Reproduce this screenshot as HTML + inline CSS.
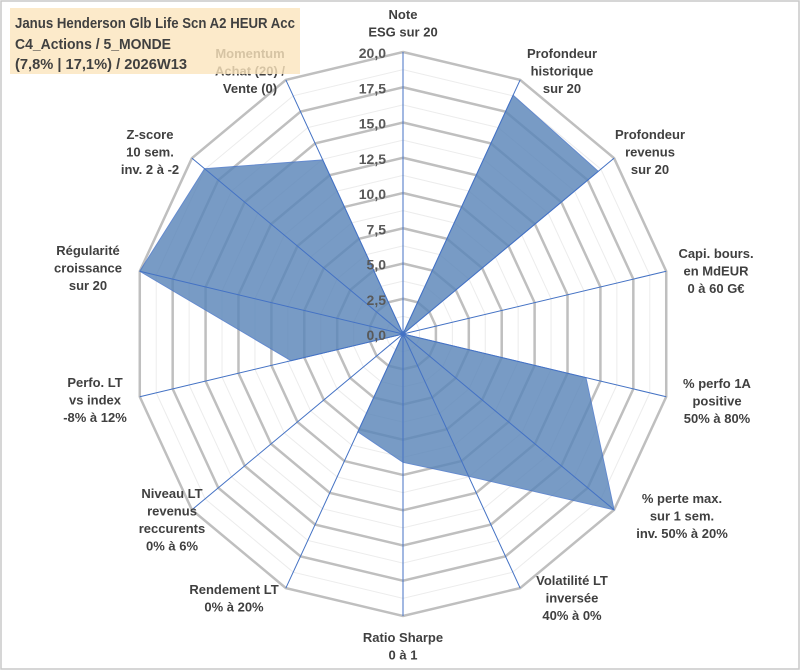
<!DOCTYPE html>
<html><head><meta charset="utf-8"><style>
html,body{margin:0;padding:0;background:#fff;}
svg{display:block;font-family:"Liberation Sans",sans-serif;}
.lab{font-size:13px;font-weight:bold;fill:#404040;text-anchor:middle;}
.tick{font-size:14px;font-weight:bold;fill:#595959;text-anchor:end;}
</style></head><body>
<svg id="chart" width="801" height="671" viewBox="0 0 801 671">
<rect x="1" y="1" width="798" height="668" fill="#fff" stroke="#c8c8c8" stroke-width="1.5"/>
<g id="grid"></g>
<g id="series"></g>
<g id="spokes"></g>
<g id="ticks"></g>
<g id="labels"></g>
<g>
<rect x="10" y="8" width="290" height="66" fill="#fbe5bd" opacity="0.8"/>
<text x="15" y="28" font-size="14.5" font-weight="bold" fill="#404040" textLength="280" lengthAdjust="spacingAndGlyphs">Janus Henderson Glb Life Scn A2 HEUR Acc</text>
<text x="15" y="49" font-size="14.5" font-weight="bold" fill="#404040" textLength="156" lengthAdjust="spacingAndGlyphs">C4_Actions / 5_MONDE</text>
<text x="15" y="69" font-size="14.5" font-weight="bold" fill="#404040" textLength="172" lengthAdjust="spacingAndGlyphs">(7,8% | 17,1%) / 2026W13</text>
</g>
</svg>
<script>
const categories=[["Note","ESG sur 20"],["Profondeur","historique","sur 20"],["Profondeur","revenus","sur 20"],["Capi. bours.","en MdEUR","0 à 60 G€"],["% perfo 1A","positive","50% à 80%"],["% perte max.","sur 1 sem.","inv. 50% à 20%"],["Volatilité LT","inversée","40% à 0%"],["Ratio Sharpe","0 à 1"],["Rendement LT","0% à 20%"],["Niveau LT","revenus","reccurents","0% à 6%"],["Perfo. LT","vs index","-8% à 12%"],["Régularité","croissance","sur 20"],["Z-score","10 sem.","inv. 2 à -2"],["Momentum","Achat (20) /","Vente (0)"]];
const values=[0,18.8,18.5,0,13.9,20,11.2,9.1,7.7,0,8.5,20,18.8,13.7];
const tickLabels=["0,0","2,5","5,0","7,5","10,0","12,5","15,0","17,5","20,0"];
const labelPos=[[403,14],[562,53],[650,134],[716,253],[717,383],[682,498],[572,580],[403,637],[234,589],[172,493],[95,382],[88,250],[150,134],[250,53]];
const cx=403,cy=334,RX=270,RY=282,MAX=20,N=categories.length;
const NS="http://www.w3.org/2000/svg";
function pt(i,v){const a=2*Math.PI*i/N;return [cx+Math.sin(a)*RX*v/MAX,cy-Math.cos(a)*RY*v/MAX];}
function mk(tag,attrs,parent){const e=document.createElementNS(NS,tag);for(const k in attrs)e.setAttribute(k,attrs[k]);parent.appendChild(e);return e;}
const grid=document.getElementById('grid');
for(let k=1;k<=16;k++){const v=k*1.25;const pts=[];for(let i=0;i<N;i++)pts.push(pt(i,v).join(','));
const major=k%2===0;
const p=mk('polygon',{points:pts.join(' '),fill:'none',stroke:major?'#bfbfbf':'#ececec','stroke-width':major?2.5:1},grid);

}
const ser=document.getElementById('series');
const sp=values.map((v,i)=>pt(i,v).join(',')).join(' ');
const poly=mk('polygon',{points:sp,fill:'#5b86b9',opacity:'0.82',stroke:'#4472c4','stroke-width':1},ser);


const spokes=document.getElementById('spokes');
for(let i=0;i<N;i++){const [x,y]=pt(i,MAX);const l=mk('line',{x1:cx,y1:cy,x2:x,y2:y,stroke:'#4472c4','stroke-width':1},spokes);

}
const ticks=document.getElementById('ticks');
tickLabels.forEach((t,k)=>{const y=cy-RY*(k*2.5)/MAX;const e=mk('text',{x:cx-17,y:y+6,class:'tick'},ticks);e.textContent=t;

});
const labs=document.getElementById('labels');
categories.forEach((c,i)=>{const [x,y]=labelPos[i];const g=mk('text',{class:'lab',x:x,y:y+5},labs);


c.forEach((line,j)=>{const t=mk('tspan',{x:x,dy:j===0?0:17.5},g);t.textContent=line;});});
</script>
</body></html>
